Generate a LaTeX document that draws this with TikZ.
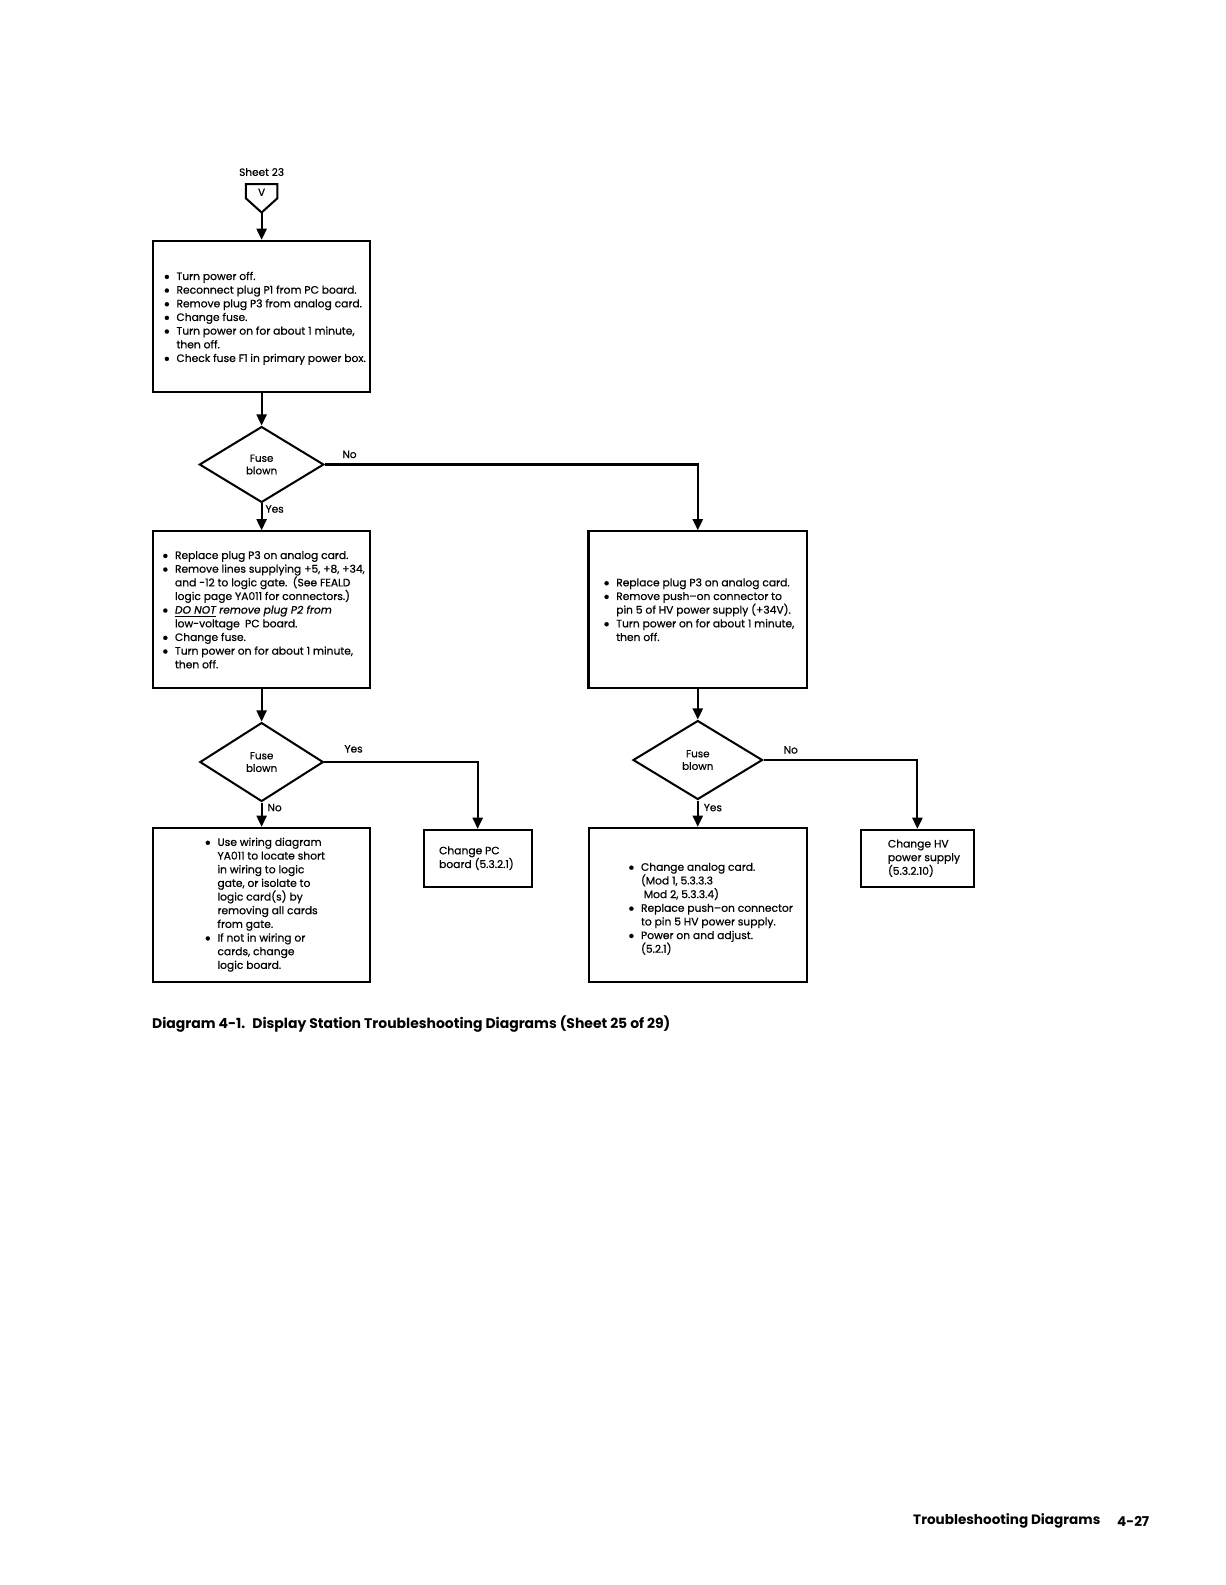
\documentclass[tikz,border=0pt]{standalone}
\usepackage{graphicx}
\usepackage{fontspec}
\setmainfont{Poppins}
\newfontfamily\flowfont{Poppins}[FakeBold=0.6,Ligatures=TeX]
\usetikzlibrary{shapes.geometric,arrows.meta,positioning}

\tikzset{
  flowbox/.style={draw,line width=1pt,inner sep=0pt},
  decide/.style={draw,diamond,line width=1pt,inner sep=0pt,align=center,
    font=\flowfont\fontsize{5.1}{6.2}\selectfont},
  boxtext/.style={anchor=west,inner sep=0pt,align=left,
    font=\flowfont\fontsize{5.3}{6.75}\selectfont},
  answer/.style={inner sep=0pt,font=\flowfont\fontsize{5.2}{6.2}\selectfont},
  flow/.style={line width=1pt,-{Triangle[length=5.5pt,width=5pt]}},
  plain/.style={line width=1pt},
  heading/.style={inner sep=0pt,font=\bfseries\fontsize{6.9}{8}\selectfont},
}
\newcommand{\bul}{\makebox[6.5pt][l]{\smash{\raisebox{-1.3pt}{\scalebox{1.6}{\textbullet}}}}}
\newcommand{\cont}{\hspace*{6.5pt}}

\begin{document}
\begin{tikzpicture}[x=0.5pt,y=0.5pt,yscale=-1]
    \useasboundingbox (0,0) rectangle (1210.5,1566.2);

    %Off-page connector
    \node[answer] (sheet) at (258.5,170) {Sheet 23};
    \draw[plain] (243,182) -- (274,182) -- (274,196) -- (258.5,210) -- (243,196) -- cycle;
    \node[answer] (conV) at (258.5,190) {V};
    \coordinate (con) at (258.5,210);

    %Boxes, left column
    \node[flowbox,minimum width=107.5pt,minimum height=74.5pt] (box1) at (258.5,312.5) {};
    \node[flowbox,minimum width=107pt,minimum height=77.5pt] (box2) at (258.5,602.5) {};
    \node[flowbox,minimum width=107pt,minimum height=76pt] (box4) at (258.5,894) {};
    \node[flowbox,minimum width=53.5pt,minimum height=28pt] (box5) at (472,848) {};
    %Boxes, right column
    \node[flowbox,minimum width=108pt,minimum height=77.5pt] (box3) at (689.5,602.5) {};
    \node[flowbox,minimum width=107.5pt,minimum height=76pt] (box6) at (689.5,894) {};
    \node[flowbox,minimum width=55.5pt,minimum height=28pt] (box7) at (906.5,848) {};

    %Decisions
    \node[decide,minimum width=61.5pt,minimum height=37.5pt] (fuse1) at (258.5,459) {Fuse\\blown};
    \node[decide,minimum width=61pt,minimum height=39pt] (fuse2) at (258.5,753) {Fuse\\blown};
    \node[decide,minimum width=64pt,minimum height=39pt] (fuse3) at (689.5,751) {Fuse\\blown};

    %Box texts
    \node[boxtext] (txt1) at ([xshift=5.5pt,yshift=1pt]box1.west) {%
      \bul Turn power off.\\
      \bul Reconnect plug P1 from PC board.\\
      \bul Remove plug P3 from analog card.\\
      \bul Change fuse.\\
      \bul Turn power on for about 1 minute,\\
      \cont then off.\\
      \bul Check fuse F1 in primary power box.};
    \node[boxtext] (txt2) at ([xshift=4.5pt]box2.west) {%
      \bul Replace plug P3 on analog card.\\
      \bul Remove lines supplying +5, +8, +34,\\
      \cont and -12 to logic gate.\enspace(See FEALD\\
      \cont logic page YA011 for connectors.)\\
      \bul \underline{\textit{DO NOT}} \textit{remove plug P2 from}\\
      \cont low-voltage\enspace PC board.\\
      \bul Change fuse.\\
      \bul Turn power on for about 1 minute,\\
      \cont then off.};
    \node[boxtext] (txt3) at ([xshift=7.5pt]box3.west) {%
      \bul Replace plug P3 on analog card.\\
      \bul Remove push–on connector to\\
      \cont pin 5 of HV power supply (+34V).\\
      \bul Turn power on for about 1 minute,\\
      \cont then off.};
    \node[boxtext] (txt4) at ([xshift=25.5pt]box4.west) {%
      \bul Use wiring diagram\\
      \cont YA011 to locate short\\
      \cont in wiring to logic\\
      \cont gate, or isolate to\\
      \cont logic card(s) by\\
      \cont removing all cards\\
      \cont from gate.\\
      \bul If not in wiring or\\
      \cont cards, change\\
      \cont logic board.};
    \node[boxtext] (txt5) at ([xshift=8pt]box5.west) {Change PC\\board (5.3.2.1)};
    \node[boxtext] (txt6) at ([xshift=19.5pt,yshift=2pt]box6.west) {%
      \bul Change analog card.\\
      \cont (Mod 1, 5.3.3.3\\
      \cont\ Mod 2, 5.3.3.4)\\
      \bul Replace push–on connector\\
      \cont to pin 5 HV power supply.\\
      \bul Power on and adjust.\\
      \cont (5.2.1)};
    \node[boxtext] (txt7) at ([xshift=13.5pt]box7.west) {Change HV\\power supply\\(5.3.2.10)};

    %Connectors
    \draw[flow] (con) -- (box1.north);
    \draw[flow] (box1.south) -- (fuse1.north);
    \draw[flow] (fuse1.south) -- (box2.north);
    \draw[flow] (fuse1.east) -| (box3.north);
    \draw[flow] (box2.south) -- (fuse2.north);
    \draw[flow] (fuse2.south) -- (box4.north);
    \draw[flow] (fuse2.east) -| (box5.north);
    \draw[flow] (box3.south) -- (fuse3.north);
    \draw[flow] (fuse3.south) -- (box6.north);
    \draw[flow] (fuse3.east) -| (box7.north);

    %Branch labels
    \node[answer,anchor=west] (no1) at (338,449) {No};
    \node[answer,anchor=west] (yes1) at (262,503) {Yes};
    \node[answer,anchor=west] (yes2) at (340,740) {Yes};
    \node[answer,anchor=west] (no2) at (264,798) {No};
    \node[answer,anchor=west] (no3) at (774,741) {No};
    \node[answer,anchor=west] (yes3) at (695,798) {Yes};

    %Caption and footer
    \node[heading,anchor=west] (caption) at (150,1012)
      {Diagram 4-1.\enspace Display Station Troubleshooting Diagrams (Sheet 25 of 29)};
    \node[heading,anchor=west,font=\bfseries\fontsize{6.7}{8}\selectfont] (foot) at (902,1503)
      {Troubleshooting Diagrams};
    \node[heading,anchor=east,font=\bfseries\fontsize{6.7}{8}\selectfont] (page) at (1136,1503) {4-27};
\end{tikzpicture}
\end{document}
